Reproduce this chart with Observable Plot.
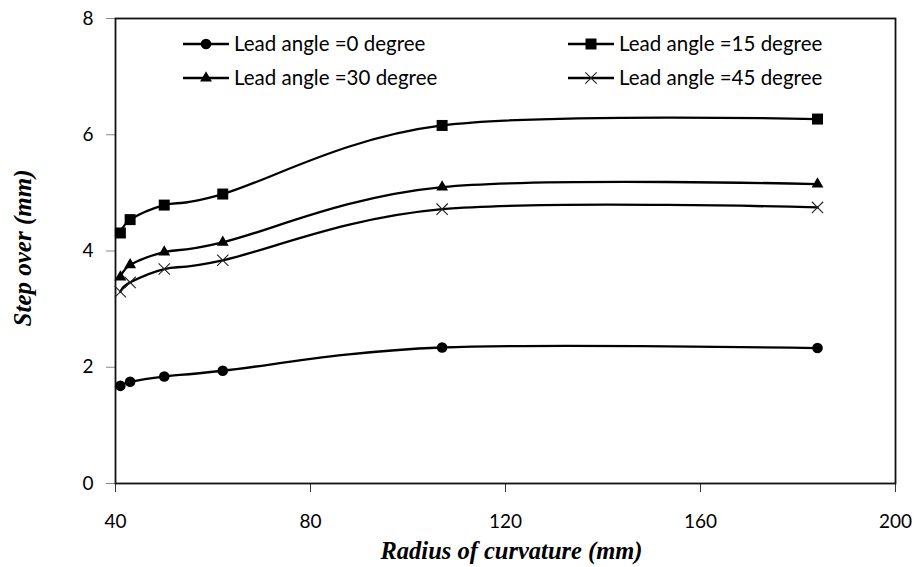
<!DOCTYPE html>
<html><head><meta charset="utf-8">
<script src="https://cdn.jsdelivr.net/npm/d3@7"></script>
<script src="https://cdn.jsdelivr.net/npm/@observablehq/plot@0.6"></script>
<style>
html,body{margin:0;padding:0;background:#fff;}
#chart{position:relative;width:916px;height:567px;overflow:hidden;}
</style></head><body><div id="chart"></div>
<script>
// Data
const radius = [41, 43, 50, 62, 107, 184];
const lead0  = [1.68, 1.75, 1.84, 1.94, 2.34, 2.33];
const lead15 = [4.31, 4.54, 4.79, 4.98, 6.16, 6.27];
const lead30 = [3.55, 3.76, 3.98, 4.15, 5.10, 5.15];
const lead45 = [3.30, 3.46, 3.69, 3.84, 4.72, 4.75];
const seriesNames = ["Lead angle =0 degree", "Lead angle =15 degree", "Lead angle =30 degree", "Lead angle =45 degree"];
const xTicks = [40, 80, 120, 160, 200];
const yTicks = [0, 2, 4, 6, 8];
const xTitle = "Radius of curvature (mm)";
const yTitle = "Step over (mm)";

const symbols = ["circle", "square", "triangle", "times"];
const symR = [5.3, 6.2, 4.4, 5.2];
const allSeries = [lead0, lead15, lead30, lead45];
const rows = [];
allSeries.forEach((vals, i) => vals.forEach((v, j) => rows.push({series: seriesNames[i], idx: i, x: radius[j], y: v})));

const marks = [
  Plot.axisY({ticks: yTicks, tickSize: 9, tickPadding: 13, stroke: "#888", label: null, fontSize: 19}),
  Plot.axisX({ticks: xTicks, tickSize: 9, tickPadding: 22, stroke: "#333", label: null, fontSize: 19}),
  Plot.frame({stroke: "#111", strokeWidth: 1.8}),
  Plot.line(rows, {x: "x", y: "y", z: "series", stroke: "#000", strokeWidth: 2.3, curve: "cardinal", tension: 0})
];
symbols.forEach((s, i) => {
  marks.push(Plot.dot(rows.filter(d => d.idx === i), {
    x: "x", y: "y", symbol: s, r: symR[i],
    fill: s === "times" ? "none" : "#000",
    stroke: s === "times" ? "#222" : "none",
    strokeWidth: 1.1
  }));
});
marks.push(Plot.text([xTitle], {text: d => d, frameAnchor: "bottom", textAnchor: "middle", lineAnchor: "middle", dx: 6, dy: 68,
  fontFamily: "Liberation Serif", fontWeight: "bold", fontStyle: "italic", fontSize: 24.5, fill: "#000"}));
marks.push(Plot.text([yTitle], {text: d => d, frameAnchor: "left", textAnchor: "middle", lineAnchor: "middle", dx: -93, dy: -3, rotate: -90,
  fontFamily: "Liberation Serif", fontWeight: "bold", fontStyle: "italic", fontSize: 25, fill: "#000"}));

const chart = Plot.plot({
  width: 916, height: 567,
  marginLeft: 115, marginRight: 21, marginTop: 18, marginBottom: 84,
  x: {domain: [40, 200]},
  y: {domain: [0, 8]},
  style: {fontFamily: "Lato", fontSize: "19px", color: "#000", background: "#fff"},
  marks
});
document.getElementById("chart").appendChild(chart);

// Legend inside the plot area
const legendPos = [[183, 44], [568, 44], [183, 78], [568, 78]];
const svg = d3.select(chart);
const lg = svg.append("g").attr("class", "legend");
seriesNames.forEach((name, i) => {
  const [lx, ly] = legendPos[i];
  const g = lg.append("g").attr("transform", `translate(${lx},${ly})`);
  g.append("line").attr("x1", 0).attr("x2", 46).attr("y1", 0).attr("y2", 0).attr("stroke", "#000").attr("stroke-width", 2.3);
  const symMap = {circle: d3.symbolCircle, square: d3.symbolSquare, triangle: d3.symbolTriangle, times: d3.symbolTimes};
  const r = symR[i];
  g.append("path").attr("transform", "translate(23,0)")
    .attr("d", d3.symbol(symMap[symbols[i]], Math.PI * r * r)())
    .attr("fill", symbols[i] === "times" ? "none" : "#000")
    .attr("stroke", symbols[i] === "times" ? "#222" : "none")
    .attr("stroke-width", 1.1);
  g.append("text").attr("x", 51).attr("y", 0).attr("dy", "0.35em").attr("text-anchor", "start")
    .attr("font-family", "Lato").attr("font-size", 20.5).attr("fill", "#000").text(name);
});
</script></body></html>
